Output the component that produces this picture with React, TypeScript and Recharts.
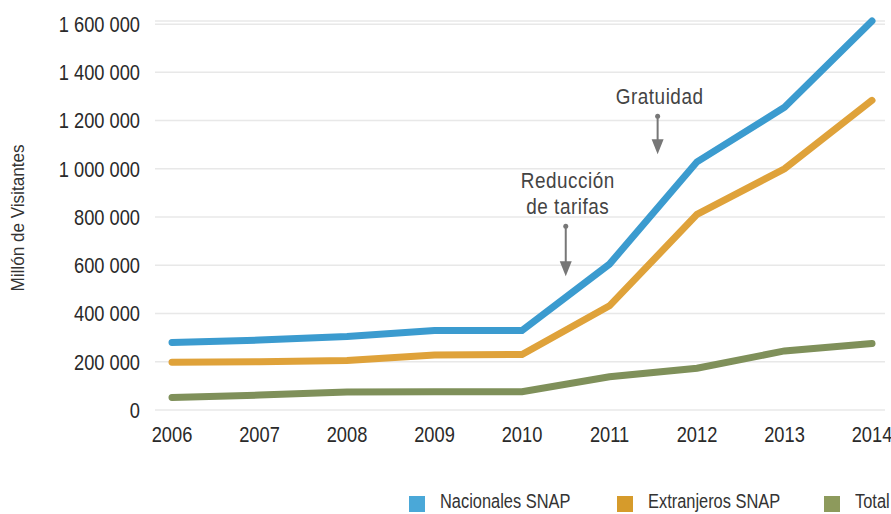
import React from "react";
import { LineChart, Line, XAxis, YAxis, CartesianGrid, Legend, ReferenceLine } from "recharts";

const years = [2006, 2007, 2008, 2009, 2010, 2011, 2012, 2013, 2014];
const nacionales = [280000, 290000, 305000, 330000, 330000, 605000, 1029000, 1255000, 1613000];
const extranjeros = [198000, 200000, 205000, 228000, 230000, 432000, 811000, 1000000, 1284000];
const total = [52000, 62000, 75000, 76000, 76000, 138000, 173000, 245000, 276000];
const yTicks = [0, 200000, 400000, 600000, 800000, 1000000, 1200000, 1400000, 1600000];

const seriesNames = ["Nacionales SNAP", "Extranjeros SNAP", "Total"];
const lineColors = ["#3b9bcf", "#dfa23a", "#7f905a"];
const legendColors = ["#4aa8d8", "#d69b2b", "#8d9a5c"];

const annotationX = [2010.5, 2011.55];
const annotationTop = [762000, 1218000];
const annotationBottom = [555000, 1060000];
const annotationText = [["Reducción", "de tarifas"], ["Gratuidad"]];

const data = years.map((y, i) => ({
  year: y,
  nac: nacionales[i],
  ext: extranjeros[i],
  tot: total[i],
}));

const FONT = "'Liberation Sans', Arial, sans-serif";
const SX = 0.83;

const fmt = (v: number) => String(v).replace(/\B(?=(\d{3})+(?!\d))/g, " ");

const NarrowTick = (props: any) => {
  const { x, y, payload, textAnchor, tickFormatter, dyEm } = props;
  const label = tickFormatter ? tickFormatter(payload.value) : String(payload.value);
  return (
    <text
      transform={`translate(${x},${y}) scale(${SX},1)`}
      x={0}
      y={0}
      dy={dyEm}
      textAnchor={textAnchor}
      fontFamily={FONT}
      fontSize={22}
      fill="#2a2a2a"
    >
      {label}
    </text>
  );
};

const makeArrow = (lines: string[]) => (props: any) => {
  const { x1, y1, y2 } = props;
  const x = x1;
  const top = Math.min(y1, y2);
  const bot = Math.max(y1, y2);
  const n = lines.length;
  return (
    <g>
      {lines.map((t, k) => (
        <text
          key={k}
          transform={`translate(${x + 2},${top - 12 - (n - 1 - k) * 26}) scale(0.86,1)`}
          x={0}
          y={0}
          textAnchor="middle"
          fontFamily={FONT}
          fontSize={22}
          fill="#444"
          letterSpacing={0.6}
        >
          {t}
        </text>
      ))}
      <circle cx={x} cy={top} r={2.5} fill="#777" />
      <line x1={x} y1={top} x2={x} y2={bot - 14} stroke="#777" strokeWidth={2} />
      <polygon points={`${x - 6},${bot - 15} ${x + 6},${bot - 15} ${x},${bot}`} fill="#777" />
    </g>
  );
};

const renderLegend = () => (
  <div
    style={{
      display: "flex",
      height: 24,
      paddingLeft: 409,
      fontFamily: FONT,
      fontSize: 20,
      lineHeight: "22px",
      color: "#333",
      whiteSpace: "nowrap",
      overflow: "hidden",
      width: 891,
      boxSizing: "border-box",
    }}
  >
    {seriesNames.map((n, i) => (
      <div key={n} style={{ display: "flex", alignItems: "flex-start", width: 207.5, flex: "none" }}>
        <div style={{ width: 16, height: 16, marginTop: 6, marginRight: 15, background: legendColors[i], flex: "none" }} />
        <span style={{ display: "inline-block", transform: "scaleX(0.82)", transformOrigin: "0 0" }}>{n}</span>
      </div>
    ))}
  </div>
);

const YLabel = () => (
  <text
    transform="translate(18,218) rotate(-90) scale(0.9,1)"
    x={0}
    y={0}
    textAnchor="middle"
    dominantBaseline="central"
    fontFamily={FONT}
    fontSize={19}
    fill="#333"
  >
    Millón de Visitantes
  </text>
);

export default function App() {
  return (
    <div style={{ position: "absolute", left: 0, top: 0, width: 891, height: 514, background: "#fff", overflow: "hidden" }}>
      <LineChart width={891} height={514} data={data} margin={{ top: 21, right: 6, bottom: 0, left: 0 }}>
        <CartesianGrid vertical={false} stroke="#e8e8e8" strokeWidth={1.5} />
        <XAxis
          dataKey="year"
          type="number"
          domain={[2006, 2014]}
          ticks={years}
          padding={{ left: 17, right: 13 }}
          axisLine={false}
          tickLine={false}
          tickMargin={10}
          height={80}
          tick={<NarrowTick dyEm="0.71em" />}
        />
        <YAxis
          domain={[0, 1600000]}
          ticks={yTicks}
          tickFormatter={fmt}
          axisLine={false}
          tickLine={false}
          tickMargin={9}
          width={155}
          interval={0}
          tick={<NarrowTick dyEm="0.355em" />}
          label={<YLabel />}
        />
        <Legend verticalAlign="bottom" content={renderLegend} wrapperStyle={{ left: 0, width: 891, height: 24 }} />
        {annotationX.map((ax, i) => (
          <ReferenceLine
            key={i}
            segment={[
              { x: ax, y: annotationTop[i] },
              { x: ax, y: annotationBottom[i] },
            ]}
            shape={makeArrow(annotationText[i])}
            ifOverflow="visible"
          />
        ))}
        <Line dataKey="tot" name={seriesNames[2]} stroke={lineColors[2]} strokeWidth={7} dot={false} isAnimationActive={false} strokeLinecap="round" />
        <Line dataKey="ext" name={seriesNames[1]} stroke={lineColors[1]} strokeWidth={7} dot={false} isAnimationActive={false} strokeLinecap="round" />
        <Line dataKey="nac" name={seriesNames[0]} stroke={lineColors[0]} strokeWidth={7} dot={false} isAnimationActive={false} strokeLinecap="round" />
      </LineChart>
    </div>
  );
}
